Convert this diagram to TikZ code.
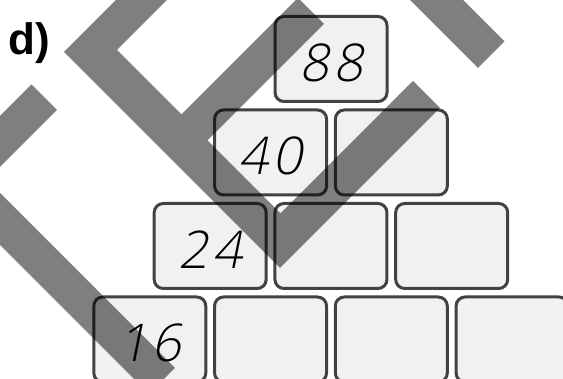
\documentclass[tikz,border=0pt]{standalone}
\usepackage{fontspec}
\setsansfont{Liberation Sans}
\IfFontExistsTF{Open Sans Light}
  {\newfontfamily\handfont{Open Sans Light}[FakeSlant=0.2,LetterSpace=8]}
  {\newfontfamily\handfont{Open Sans}[FakeSlant=0.2,LetterSpace=8]}
\definecolor{cellfill}{HTML}{F1F1F1}
\definecolor{celledge}{HTML}{424242}
\tikzstyle{cell}=[rectangle, rounded corners=9pt, draw=celledge, fill=cellfill,
  line width=3pt, minimum width=112pt, minimum height=85pt, inner sep=0pt,
  text height=45pt, text depth=0pt, font=\handfont\fontsize{52}{52}\selectfont]
\tikzstyle{band}=[fill=black, opacity=0.5]

\begin{document}
\begin{tikzpicture}[x=1pt,y=-1pt]
\useasboundingbox (0,0) rectangle (563,379);
\fill[white] (0,0) rectangle (563,379);
\clip (0,0) rectangle (563,379);
\node[anchor=base west, inner sep=0pt, font=\sffamily\bfseries\fontsize{44}{44}\selectfont]
  (task) at (8,55) {d)};
% Zahlenmauer
\foreach \r/\c/\val in {0/0/88, 1/0/40, 1/1/{}, 2/0/24, 2/1/{}, 2/2/{},
                        3/0/16, 3/1/{}, 3/2/{}, 3/3/{}}
  \node[cell] (cell\r\c) at ({331-60.4*\r+120.75*\c},{59+93.5*\r}) {\val};
% graue Streifen darueber
\fill[band]
  (31.5,84.5) -- (57,110) -- (-16.5,183.5) -- (-42,158) -- cycle
  (158,-42) -- (64,52) -- (280,268) -- (440,108) -- (413,81) -- (280.5,213.5)
    -- (207.5,140.5) -- (324,24) -- (298,-2) -- (181.5,114.5) -- (117,50)
    -- (183.5,-16.5) -- cycle
  (380,-30) -- (478,68) -- (504.5,41.5) -- (406.5,-56.5) -- cycle
  (-46.5,146.5) -- (175,368) -- (149,394) -- (-72.5,172.5) -- cycle;
\end{tikzpicture}
\end{document}
